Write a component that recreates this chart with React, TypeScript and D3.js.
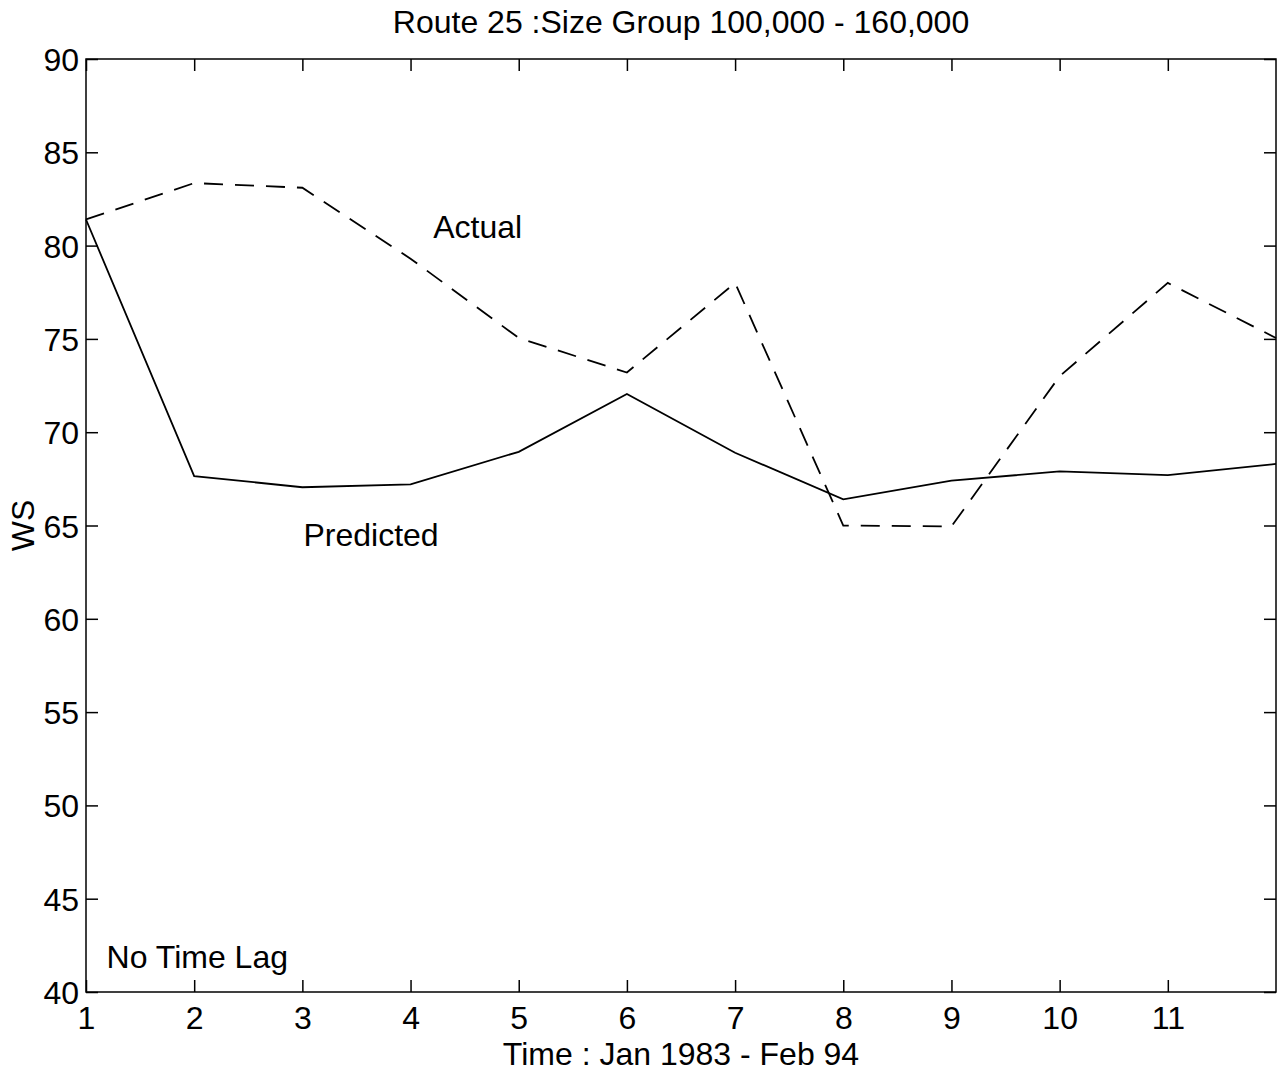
import { useEffect, useRef } from 'react';
import * as d3 from 'd3';

// data
const periods = [1, 2, 3, 4, 5, 6, 7, 8, 9, 10, 11, 12];
const actual = [81.4, 83.35, 83.1, 79.3, 75.05, 73.2, 78.0, 65.0, 64.95, 73.0, 78.0, 75.05];
const predicted = [81.4, 67.65, 67.05, 67.2, 68.95, 72.05, 68.9, 66.4, 67.4, 67.9, 67.7, 68.3];
const xTicks = [1, 2, 3, 4, 5, 6, 7, 8, 9, 10, 11];
const yTicks = [40, 45, 50, 55, 60, 65, 70, 75, 80, 85, 90];

const FONT = '"Liberation Sans", Arial, Helvetica, sans-serif';
const FS = '32px';

export default function App() {
  const svgRef = useRef<SVGSVGElement>(null);
  const width = 1277;
  const height = 1074;

  useEffect(() => {
    if (!svgRef.current) return;
    document.body.style.margin = '0';

    const svg = d3.select(svgRef.current);
    svg.selectAll('*').remove();

    const margin = { top: 59, right: 1, bottom: 82, left: 86 };
    const w = width - margin.left - margin.right;
    const h = height - margin.top - margin.bottom;

    const g = svg.append('g')
      .attr('transform', `translate(${margin.left},${margin.top})`);

    const x = d3.scaleLinear().domain([1, 12]).range([0, w]);
    const y = d3.scaleLinear().domain([40, 90]).range([h, 0]);

    // box
    g.append('rect')
      .attr('x', 0).attr('y', 0)
      .attr('width', w).attr('height', h)
      .attr('fill', 'none')
      .attr('stroke', '#000')
      .attr('stroke-width', 1.5);

    // axes, ticks pointing inward
    const tickLen = 12;
    const bottom = g.append('g')
      .attr('transform', `translate(0,${h})`)
      .call(d3.axisBottom(x).tickValues(xTicks).tickSize(-tickLen).tickPadding(13).tickFormat(d3.format('d')));
    const top = g.append('g')
      .call(d3.axisTop(x).tickValues(xTicks).tickSize(-tickLen).tickFormat(() => ''));
    const left = g.append('g')
      .call(d3.axisLeft(y).tickValues(yTicks).tickSize(-tickLen).tickPadding(7).tickFormat(d3.format('d')));
    const right = g.append('g')
      .attr('transform', `translate(${w},0)`)
      .call(d3.axisRight(y).tickValues(yTicks).tickSize(-tickLen).tickFormat(() => ''));

    [bottom, top, left, right].forEach(a => {
      a.select('.domain').remove();
      a.selectAll('line').attr('stroke', '#000').attr('stroke-width', 1.5);
      a.selectAll('text')
        .attr('fill', '#000')
        .attr('font-family', FONT)
        .attr('font-size', FS);
    });
    bottom.selectAll('text').attr('dy', '0.75em').attr('y', 13);
    left.selectAll('text').attr('dy', '0.36em');

    const line = d3.line<number>()
      .x((_, i) => x(periods[i]))
      .y(d => y(d));

    g.append('path')
      .datum(actual)
      .attr('fill', 'none')
      .attr('stroke', '#000')
      .attr('stroke-width', 1.8)
      .attr('stroke-dasharray', '19,12')
      .attr('d', line);

    g.append('path')
      .datum(predicted)
      .attr('fill', 'none')
      .attr('stroke', '#000')
      .attr('stroke-width', 1.8)
      .attr('d', line);

    const txt = (sel: d3.Selection<SVGTextElement, unknown, null, undefined>) =>
      sel.attr('font-family', FONT).attr('font-size', FS).attr('fill', '#000');

    // annotations
    g.append('text').attr('x', x(4.21)).attr('y', y(80.4)).text('Actual').call(txt);
    g.append('text').attr('x', x(3.01)).attr('y', y(63.9)).text('Predicted').call(txt);
    g.append('text').attr('x', x(1.19)).attr('y', y(41.3)).text('No Time Lag').call(txt);

    // titles
    svg.append('text')
      .attr('x', margin.left + w / 2)
      .attr('y', 33)
      .attr('text-anchor', 'middle')
      .text('Route 25 :Size Group 100,000 - 160,000')
      .call(txt);

    svg.append('text')
      .attr('x', margin.left + w / 2)
      .attr('y', 1065)
      .attr('text-anchor', 'middle')
      .text('Time : Jan 1983 - Feb 94')
      .call(txt);

    svg.append('text')
      .attr('transform', `translate(34,${margin.top + y(65)}) rotate(-90)`)
      .attr('text-anchor', 'middle')
      .text('WS')
      .call(txt);
  }, []);

  return (
    <svg
      ref={svgRef}
      width={width}
      height={height}
      style={{ position: 'absolute', left: 0, top: 0, background: '#fff' }}
    />
  );
}
